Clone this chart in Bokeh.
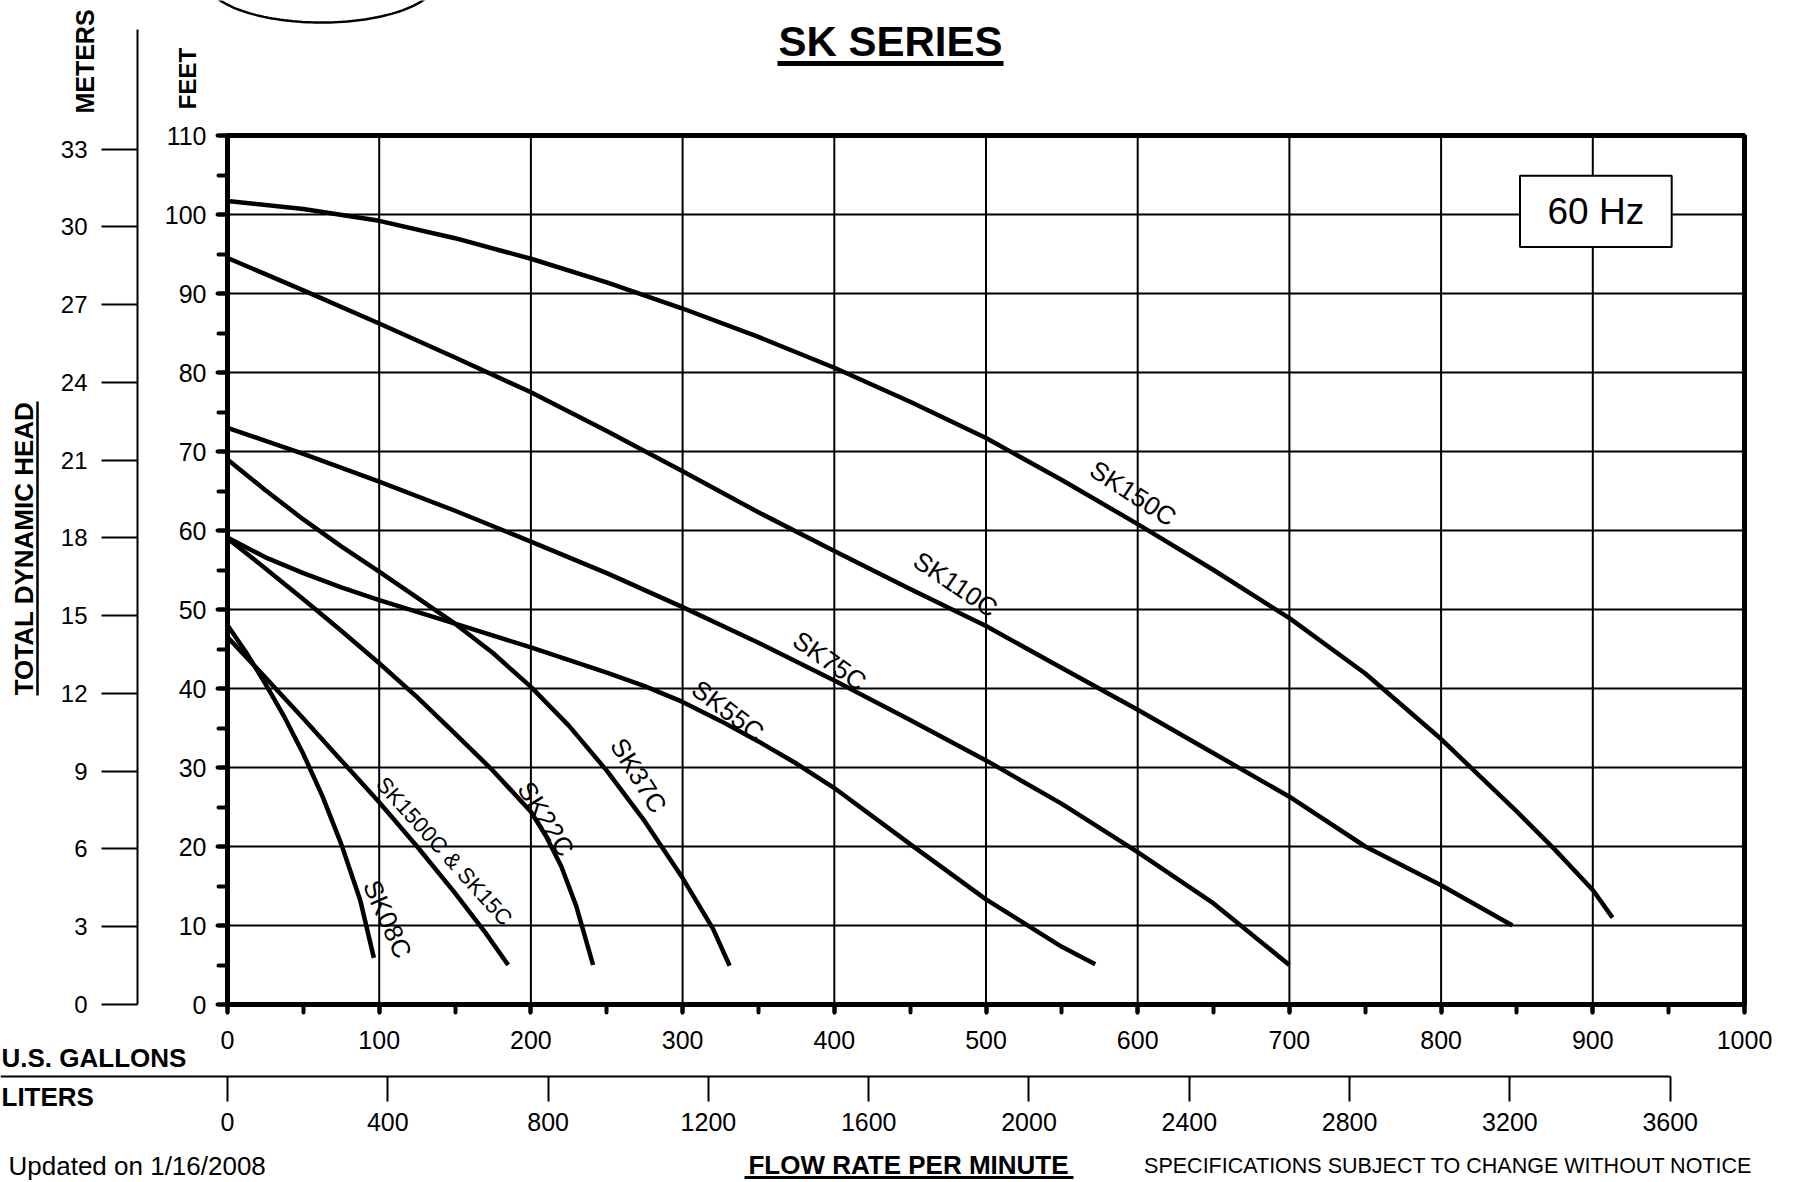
from bokeh.plotting import figure
from bokeh.models import (Range1d, LinearAxis, SingleIntervalTicker, Label,
                          BoxAnnotation, PolyAnnotation)
from bokeh.embed import file_html
from bokeh.resources import INLINE
import numpy as np

# ---------------- data (flow in US gpm, head in feet) ----------------
sk150c_gpm = [0, 50, 100, 150, 200, 250, 300, 350, 400, 450, 500, 550, 600, 650, 700, 750, 800, 850, 875, 900, 913]
sk150c_ft = [101.7, 100.7, 99.2, 97.0, 94.4, 91.4, 88.1, 84.5, 80.6, 76.3, 71.7, 66.4, 60.8, 55.0, 48.9, 41.9, 33.6, 24.4, 19.6, 14.5, 11.0]

sk110c_gpm = [0, 50, 100, 150, 200, 250, 300, 350, 400, 450, 500, 550, 600, 650, 700, 750, 800, 847]
sk110c_ft = [94.5, 90.4, 86.2, 81.9, 77.5, 72.6, 67.5, 62.3, 57.4, 52.6, 47.9, 42.6, 37.3, 31.8, 26.3, 20.0, 15.1, 10.0]

sk75c_gpm = [0, 50, 100, 150, 200, 250, 300, 350, 400, 450, 500, 550, 600, 650, 700]
sk75c_ft = [73.0, 69.7, 66.2, 62.5, 58.6, 54.6, 50.3, 45.8, 41.0, 36.0, 30.9, 25.4, 19.3, 12.8, 5.0]

sk55c_gpm = [0, 25, 50, 75, 100, 150, 200, 250, 275, 300, 325, 350, 375, 400, 450, 500, 550, 572]
sk55c_ft = [59.1, 56.6, 54.6, 52.8, 51.2, 48.2, 45.2, 42.0, 40.3, 38.3, 35.9, 33.3, 30.5, 27.4, 20.3, 13.3, 7.3, 5.1]

sk37c_gpm = [0, 25, 50, 75, 100, 125, 150, 175, 200, 225, 250, 275, 300, 320, 331]
sk37c_ft = [69.0, 65.1, 61.4, 58.0, 54.8, 51.5, 48.2, 44.5, 40.2, 35.3, 29.6, 23.2, 16.0, 9.6, 4.9]

sk22c_gpm = [0, 25, 50, 75, 100, 125, 150, 175, 200, 210, 220, 230, 241]
sk22c_ft = [59.0, 55.2, 51.3, 47.3, 43.2, 38.9, 34.3, 29.6, 24.4, 21.3, 17.5, 12.4, 5.0]

sk15c_gpm = [0, 25, 50, 75, 100, 125, 150, 170, 185]
sk15c_ft = [46.5, 41.4, 36.2, 30.9, 25.6, 20.0, 14.1, 9.1, 5.0]

sk08c_gpm = [0, 12.5, 25, 37.5, 50, 62.5, 75, 87.5, 96.5]
sk08c_ft = [48.0, 44.5, 40.6, 36.4, 31.7, 26.4, 20.3, 13.2, 5.9]

curve_names = ["SK150C", "SK110C", "SK75C", "SK55C", "SK37C", "SK22C", "SK1500C & SK15C", "SK08C"]

gpm_ticks = [0, 100, 200, 300, 400, 500, 600, 700, 800, 900, 1000]
feet_ticks = [0, 10, 20, 30, 40, 50, 60, 70, 80, 90, 100, 110]
liter_ticks = [0, 400, 800, 1200, 1600, 2000, 2400, 2800, 3200, 3600]
meter_ticks = [0, 3, 6, 9, 12, 15, 18, 21, 24, 27, 30, 33]

FT_TO_M = 0.3048
GAL_TO_L = 3.78541

# ---------------- layout (page pixels) ----------------
W, H = 1792, 1180
X0, X1 = 227.0, 1744.0    # x pixel of 0 and 1000 gpm
Y0, Y1 = 1004.0, 135.0    # y pixel of 0 and 110 ft
PXG = (X1 - X0) / 1000.0
PXF = (Y0 - Y1) / 110.0

def gx(X):  # pixel x -> gpm
    return (X - X0) / PXG

def fy(Y):  # pixel y -> feet
    return (Y0 - Y) / PXF

FONT = "Liberation Sans"

p = figure(width=W, height=H, output_backend="svg", toolbar_location=None,
           x_range=Range1d(gx(0), gx(W)), y_range=Range1d(fy(H), fy(0)),
           x_axis_location=None, y_axis_location=None, min_border=0)
p.background_fill_color = "white"
p.border_fill_color = "white"
p.outline_line_color = None
p.xgrid.visible = False
p.ygrid.visible = False
p.extra_y_ranges = {"m": Range1d(fy(H) * FT_TO_M, fy(0) * FT_TO_M)}
p.extra_x_ranges = {"L": Range1d(gx(0) * GAL_TO_L, gx(W) * GAL_TO_L)}

# ---------------- grid and frame ----------------
inner_x = gpm_ticks[1:-1]
inner_y = feet_ticks[1:-1]
p.segment(x0=inner_x, y0=[feet_ticks[0]] * len(inner_x), x1=inner_x, y1=[feet_ticks[-1]] * len(inner_x),
          line_color="black", line_width=2)
p.segment(x0=[gpm_ticks[0]] * len(inner_y), y0=inner_y, x1=[gpm_ticks[-1]] * len(inner_y), y1=inner_y,
          line_color="black", line_width=2)
p.quad(left=[gpm_ticks[0]], right=[gpm_ticks[-1]], bottom=[feet_ticks[0]], top=[feet_ticks[-1]],
       fill_color=None, line_color="black", line_width=5)

# ---------------- axes ----------------
def style(ax, tick_out, minor_out, tw, lw, fs, standoff):
    ax.axis_line_width = lw
    ax.axis_line_color = "black"
    ax.major_tick_out = tick_out
    ax.major_tick_in = 0
    ax.minor_tick_out = minor_out
    ax.minor_tick_in = 0
    ax.major_tick_line_width = tw
    ax.minor_tick_line_width = tw
    ax.major_tick_line_color = "black"
    ax.minor_tick_line_color = "black"
    ax.major_label_text_font = FONT
    ax.major_label_text_font_size = fs
    ax.major_label_text_color = "black"
    ax.major_label_standoff = standoff

ya = LinearAxis(ticker=SingleIntervalTicker(interval=10, num_minor_ticks=2),
                bounds=(0, 110), fixed_location=0)
style(ya, 10, 9, 4, 5, "25px", 11)
ya.major_tick_line_cap = "round"
ya.minor_tick_line_cap = "round"
p.add_layout(ya, "left")

xa = LinearAxis(ticker=SingleIntervalTicker(interval=100, num_minor_ticks=2),
                bounds=(0, 1000), fixed_location=0)
style(xa, 8, 8, 4, 5, "25px", 18)
xa.major_tick_line_cap = "round"
xa.minor_tick_line_cap = "round"
p.add_layout(xa, "below")

ma = LinearAxis(y_range_name="m", ticker=meter_ticks,
                bounds=(0, fy(29) * FT_TO_M), fixed_location=gx(137))
style(ma, 36, 0, 2, 2, "24px", 14)
p.add_layout(ma, "left")

la = LinearAxis(x_range_name="L", ticker=liter_ticks,
                bounds=(gx(0) * GAL_TO_L, 3600), fixed_location=fy(1076))
style(la, 25, 0, 2, 2, "25px", 11)
p.add_layout(la, "below")

# ---------------- curves ----------------
series = [(sk150c_gpm, sk150c_ft), (sk110c_gpm, sk110c_ft), (sk75c_gpm, sk75c_ft),
          (sk55c_gpm, sk55c_ft), (sk37c_gpm, sk37c_ft), (sk22c_gpm, sk22c_ft),
          (sk15c_gpm, sk15c_ft), (sk08c_gpm, sk08c_ft)]
for xs, ys in series:
    p.line(xs, ys, line_color="black", line_width=4.5, line_cap="butt", line_join="round")

# curve labels (gpm, ft, angle deg, font size)
label_pos = [(597, 64.7, -33, "26px"), (480, 53.2, -34, "26px"), (397, 43.5, -35, "26px"),
             (330, 37.2, -37, "26px"), (271, 29.0, -58, "26px"), (210, 23.5, -58, "26px"),
             (143, 19.4, -48, "22px"), (105.5, 10.8, -66, "26px")]
for name, (lx, ly, ang, fs) in zip(curve_names, label_pos):
    p.add_layout(Label(x=lx, y=ly, text=name, angle=ang, angle_units="deg",
                       text_align="center", text_baseline="middle",
                       text_font=FONT, text_font_size=fs, text_color="black"))

# 60 Hz box
p.rect(x=[902], y=[100.4], width=100, height=9, fill_color="white",
       line_color="black", line_width=2)
p.add_layout(Label(x=902, y=100.4, text="60 Hz", text_align="center",
                   text_baseline="middle", text_font=FONT, text_font_size="37px",
                   text_color="black"))

# ---------------- texts and decorations ----------------
def txt(X, Y, s, size, bold=False, angle=0, align="center"):
    p.add_layout(Label(x=gx(X), y=fy(Y), text=s, angle=angle, angle_units="deg",
                       text_align=align, text_baseline="middle", text_font=FONT,
                       text_font_size=size, text_font_style="bold" if bold else "normal",
                       text_color="black"))

def hline(Xa, Xb, Y, w):
    p.add_layout(BoxAnnotation(left=gx(Xa), right=gx(Xb), top=fy(Y - w / 2), bottom=fy(Y + w / 2),
                               fill_color="black", fill_alpha=1, line_alpha=0))

def vline(X, Ya, Yb, w):
    p.add_layout(BoxAnnotation(left=gx(X - w / 2), right=gx(X + w / 2), top=fy(Ya), bottom=fy(Yb),
                               fill_color="black", fill_alpha=1, line_alpha=0))

txt(890, 41, "SK SERIES", "42px", bold=True)
hline(777, 1003, 63, 5)

txt(84, 61, "METERS", "25px", bold=True, angle=90)
txt(187, 78, "FEET", "24px", bold=True, angle=90)
txt(23, 548, "TOTAL DYNAMIC HEAD", "26px", bold=True, angle=90)
vline(37, 401, 695, 2.5)

txt(1, 1057, "U.S. GALLONS", "26px", bold=True, align="left")
txt(1, 1096, "LITERS", "26px", bold=True, align="left")

txt(908, 1164, "FLOW RATE PER MINUTE", "26px", bold=True)
hline(744, 1073, 1177, 3)
txt(8, 1165, "Updated on 1/16/2008", "26px", align="left")
txt(1752, 1165, "SPECIFICATIONS SUBJECT TO CHANGE WITHOUT NOTICE", "21.5px", align="right")

# logo ellipse (only its bottom shows)
t = np.linspace(0, 2 * np.pi, 160)
ex = 321 + 115 * np.cos(t)
ey = -20 + 42 * np.sin(t)
p.add_layout(PolyAnnotation(xs=[gx(v) for v in ex], ys=[fy(v) for v in ey],
                            fill_alpha=0, line_color="black", line_alpha=1.0, line_width=2.5))

open("out.html", "w").write(file_html(p, INLINE))
